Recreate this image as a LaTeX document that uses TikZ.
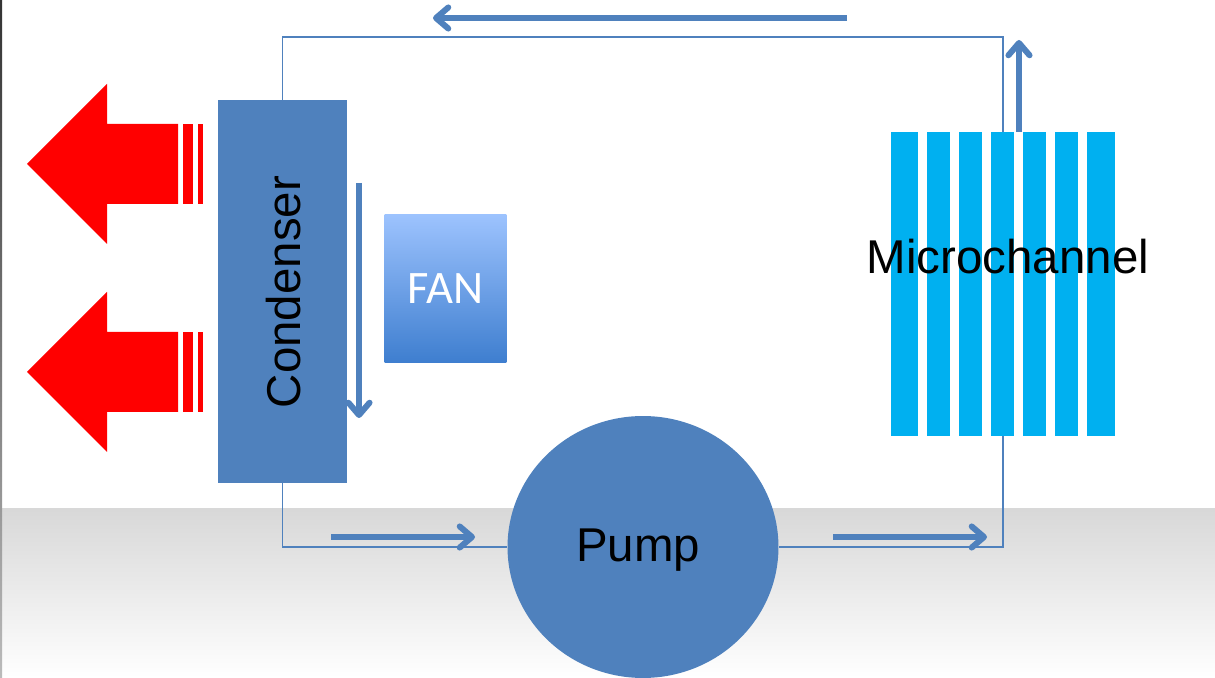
\documentclass[tikz,border=0pt]{standalone}
\usepackage{fontspec}
\setmainfont{Liberation Sans}
\newfontfamily\fanfont{Carlito}
\usetikzlibrary{arrows.meta,shapes.geometric,calc}
\definecolor{condblue}{RGB}{79,129,189}
\definecolor{chancyan}{RGB}{0,176,240}
\definecolor{fantop}{RGB}{157,195,254}
\definecolor{fanbot}{RGB}{62,126,207}
\tikzset{
  loopline/.style={draw=condblue,line width=0.9pt},
  flow/.style={draw=condblue,line width=3.4pt,-{Straight Barb[length=7pt,width=12pt,round]}},
  bigtext/.style={font=\fontsize{27}{30}\selectfont}
}
\begin{document}
\begin{tikzpicture}[x=0.02cm,y=-0.02cm]
  \useasboundingbox (0,0) rectangle (1215,678);
  % background
  \shade[top color={rgb,255:red,216;green,216;blue,216},bottom color=white] (2,509) rectangle (1215,678);
  \shade[top color={rgb,255:red,51;green,51;blue,51},bottom color={rgb,255:red,187;green,187;blue,187}] (0,0) rectangle (2,678);
  % microchannel bars
  \foreach \xa/\xb in {891/918,927/950,959/982,991/1014,1023/1046,1055/1078,1087/1115}
    \fill[chancyan] (\xa,132) rectangle (\xb,436);
  \node[bigtext,minimum width=4.48cm,minimum height=6.08cm,inner sep=0pt] (micro) at (1003,284) {};
  \node[bigtext] (microlabel) at (1008,257) {Microchannel};
  % condenser, fan, pump
  \node[fill=condblue,minimum width=2.58cm,minimum height=7.66cm,inner sep=0pt] (condenser) at (282.5,291.5) {};
  \node[bigtext,rotate=90] (condlabel) at (284,292) {Condenser};
  \node[top color=fantop,bottom color=fanbot,minimum width=2.44cm,minimum height=2.98cm,inner sep=0pt,
        text=white,font=\fanfont\fontsize{26.5}{29}\selectfont] (fan) at (445.5,288.5) {FAN};
  \node[ellipse,fill=condblue,minimum width=5.42cm,minimum height=5.24cm,inner sep=0pt] (pump) at (643,547) {};
  \node[bigtext] (pumplabel) at (638,550) {Pump};
  % loop
  \coordinate (looptop) at (640,37);
  \draw[loopline] (condenser.north) |- (looptop) -| (micro.north);
  \draw[loopline] (condenser.south) |- (pump.west);
  \draw[loopline] (micro.south) |- (pump.east);
  % flow arrows
  \coordinate (fa) at (847,18);   \coordinate (fb) at (433,18);
  \coordinate (ra) at (1019,132); \coordinate (rb) at (1019,40);
  \coordinate (da) at (359,183);  \coordinate (db) at (359,418);
  \coordinate (la) at (331,537);  \coordinate (lb) at (475,537);
  \coordinate (pa) at (833,537);  \coordinate (pb) at (987,537);
  \draw[flow] (fa) -- (fb);
  \draw[flow] (ra) -- (rb);
  \draw[flow] (da) -- (db);
  \draw[flow] (la) -- (lb);
  \draw[flow] (pa) -- (pb);
  % heat out of the condenser
  \foreach \y in {164,372}{
    \fill[red] (27,\y) -- (107,\y-80) -- (107,\y-40) -- (178,\y-40) -- (178,\y+40)
               -- (107,\y+40) -- (107,\y+80) -- cycle;
    \fill[red] (183,\y-40) rectangle (193,\y+40);
    \fill[red] (198,\y-40) rectangle (203,\y+40);
  }
\end{tikzpicture}
\end{document}
